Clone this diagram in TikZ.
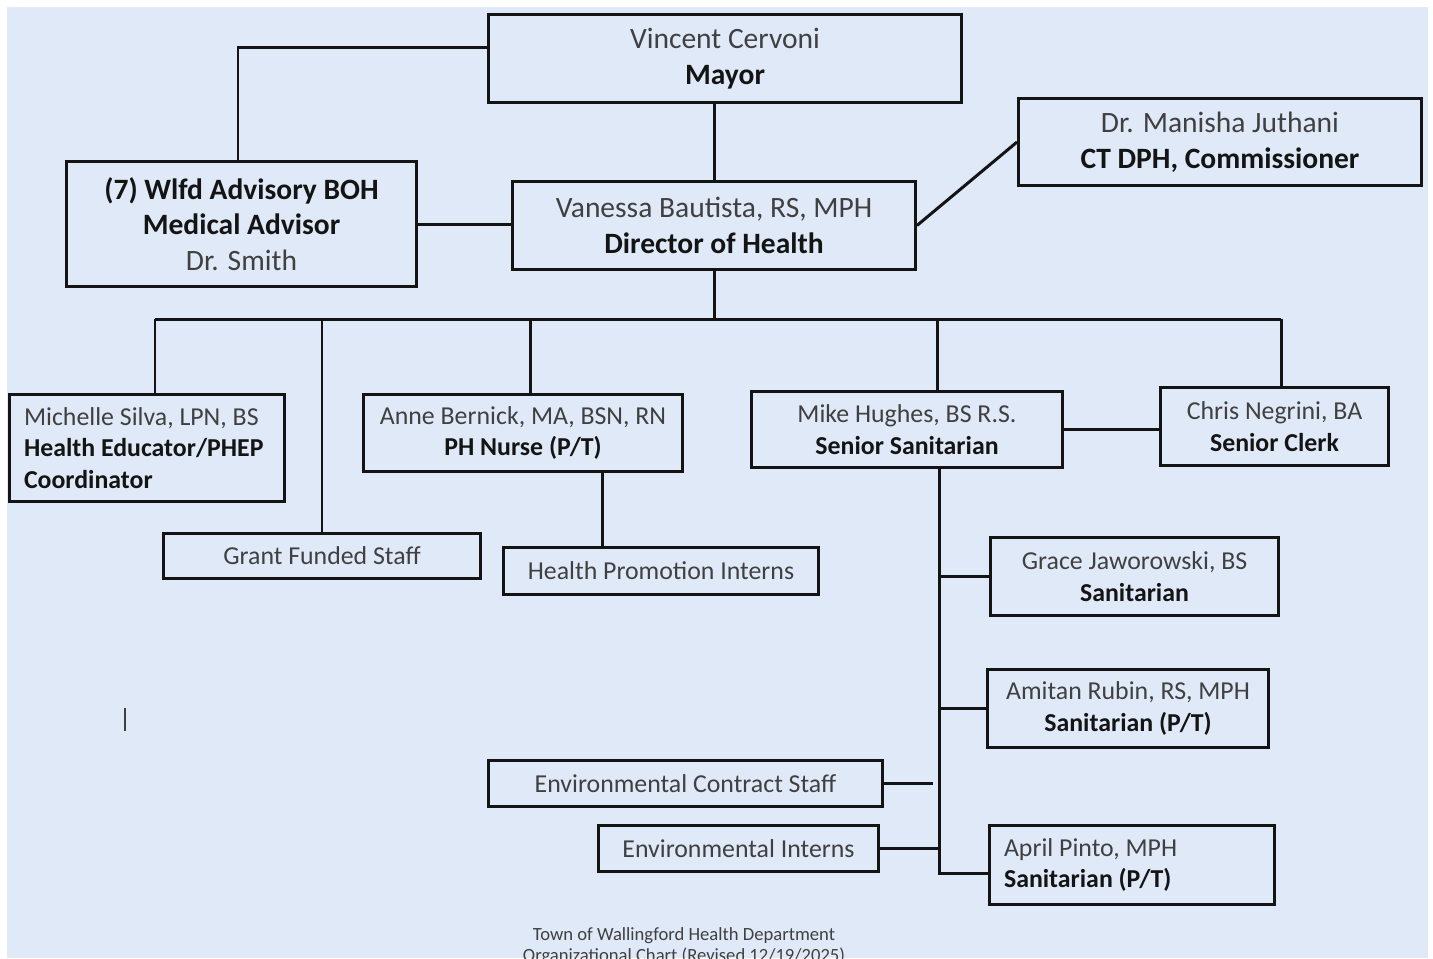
\documentclass[tikz,border=0pt]{standalone}
\usepackage{fontspec}
\setmainfont{Carlito}
\usepackage{xcolor}
\definecolor{chartbg}{RGB}{223,233,248}
\definecolor{nametext}{RGB}{64,64,64}
\definecolor{roletext}{RGB}{20,20,20}
\newcommand{\role}[1]{{\bfseries\color{roletext}#1}}

\begin{document}
\begin{tikzpicture}[x=0.02cm,y=-0.02cm,
    orgbox/.style={draw=roletext, line width=1.7pt, align=center, text=nametext, inner sep=0pt},
    topbox/.style={orgbox, font=\fontsize{16.8}{20.4}\selectfont},
    staffbox/.style={orgbox, font=\fontsize{14.7}{18.1}\selectfont},
    link/.style={draw=roletext, line width=1.7pt}]
        \useasboundingbox (0,0) rectangle (1433,958);
        \clip (0,0) rectangle (1433,958);
        \fill[white] (0,0) rectangle (1433,958);
        \fill[chartbg] (7,7) rectangle (1428,958);
        % top of the chart
        \node[topbox, minimum width=9.46cm, minimum height=1.76cm] (mayor) at (725,58.5) {Vincent Cervoni\\\role{Mayor}};
        \node[topbox, minimum width=7.0cm, minimum height=2.5cm] (boh) at (241.5,224) {\role{(7) Wlfd Advisory BOH}\\\role{Medical Advisor}\\Dr. Smith};
        \node[topbox, minimum width=8.06cm, minimum height=1.76cm] (director) at (714,225.5) {Vanessa Bautista, RS, MPH\\\role{Director of Health}};
        \node[topbox, minimum width=8.06cm, minimum height=1.74cm] (juthani) at (1220,142) {Dr. Manisha Juthani\\\role{CT DPH, Commissioner}};
        %
        \draw[link] (mayor.west |- 0,47) -| (boh.north -| 238,0);
        \draw[link] (director.north) -- (director.north |- mayor.south);
        \draw[link] (boh.east) -- (boh.east -| director.west);
        \draw[link] (director.east) -- (juthani.west);
        % staff row
        \node[staffbox, align=flush left, text width=4.92cm, inner xsep=0.3cm, minimum height=2.14cm] (silva) at (147,448) {Michelle Silva, LPN, BS\\\role{Health Educator/PHEP}\\\role{Coordinator}};
        \node[staffbox, minimum width=6.38cm, minimum height=1.54cm] (bernick) at (523,433) {Anne Bernick, MA, BSN, RN\\\role{PH Nurse (P/T)}};
        \node[staffbox, minimum width=6.22cm, minimum height=1.52cm] (hughes) at (907,429.5) {Mike Hughes, BS R.S.\\\role{Senior Sanitarian}};
        \node[staffbox, minimum width=4.56cm, minimum height=1.56cm] (negrini) at (1274.5,426.5) {Chris Negrini, BA\\\role{Senior Clerk}};
        \node[staffbox, minimum width=6.34cm, minimum height=0.9cm] (grant) at (322,556) {Grant Funded Staff};
        \node[staffbox, minimum width=6.3cm, minimum height=0.94cm] (interns) at (661,571) {Health Promotion Interns};
        %
        \coordinate (busL) at (155,319);
        \coordinate (busR) at (1281,319);
        \draw[link] (director.south) -- (director.south |- busL);
        \draw[link] (busL) -- (busR);
        \draw[link] (busL) -- (busL |- silva.north);
        \draw[link] (grant.north |- busL) -- (grant.north);
        \draw[link] (busL -| 530,0) -- (bernick.north -| 530,0);
        \draw[link] (busL -| 937,0) -- (hughes.north -| 937,0);
        \draw[link] (busR) -- (busR |- negrini.north);
        \draw[link] (hughes.east) -- (hughes.east -| negrini.west);
        \draw[link] (bernick.south -| 602,0) -- (interns.north -| 602,0);
        % sanitarians
        \node[staffbox, minimum width=5.76cm, minimum height=1.56cm] (jaworowski) at (1134.5,576.5) {Grace Jaworowski, BS\\\role{Sanitarian}};
        \node[staffbox, minimum width=5.62cm, minimum height=1.56cm] (rubin) at (1128,708.5) {Amitan Rubin, RS, MPH\\\role{Sanitarian (P/T)}};
        \node[staffbox, align=flush left, text width=5.12cm, inner xsep=0.3cm, minimum height=1.58cm] (pinto) at (1132,865) {April Pinto, MPH\\\role{Sanitarian (P/T)}};
        \node[staffbox, minimum width=7.88cm, minimum height=0.92cm] (contract) at (685.5,783.5) {Environmental Contract Staff};
        \node[staffbox, minimum width=5.6cm, minimum height=0.92cm] (envinterns) at (738.5,848.5) {Environmental Interns};
        %
        \coordinate (trunk) at (939,873);
        \coordinate (contractEnd) at (933,783.5);
        \draw[link] (hughes.south -| trunk) -- (trunk) -- (trunk -| pinto.west);
        \draw[link] (jaworowski.west) -- (jaworowski.west -| trunk);
        \draw[link] (rubin.west) -- (rubin.west -| trunk);
        \draw[link] (contract.east) -- (contractEnd);
        \draw[link] (envinterns.east) -- (envinterns.east -| trunk);
        % caret and caption
        \draw[nametext, line width=0.9pt] (125,708) -- (125,731);
        \node[align=center, text=nametext, font=\fontsize{10.6}{11.9}\selectfont, anchor=north] (caption) at (684,921) {Town of Wallingford Health Department\\Organizational Chart (Revised 12/19/2025)};
    \end{tikzpicture}
\end{document}
